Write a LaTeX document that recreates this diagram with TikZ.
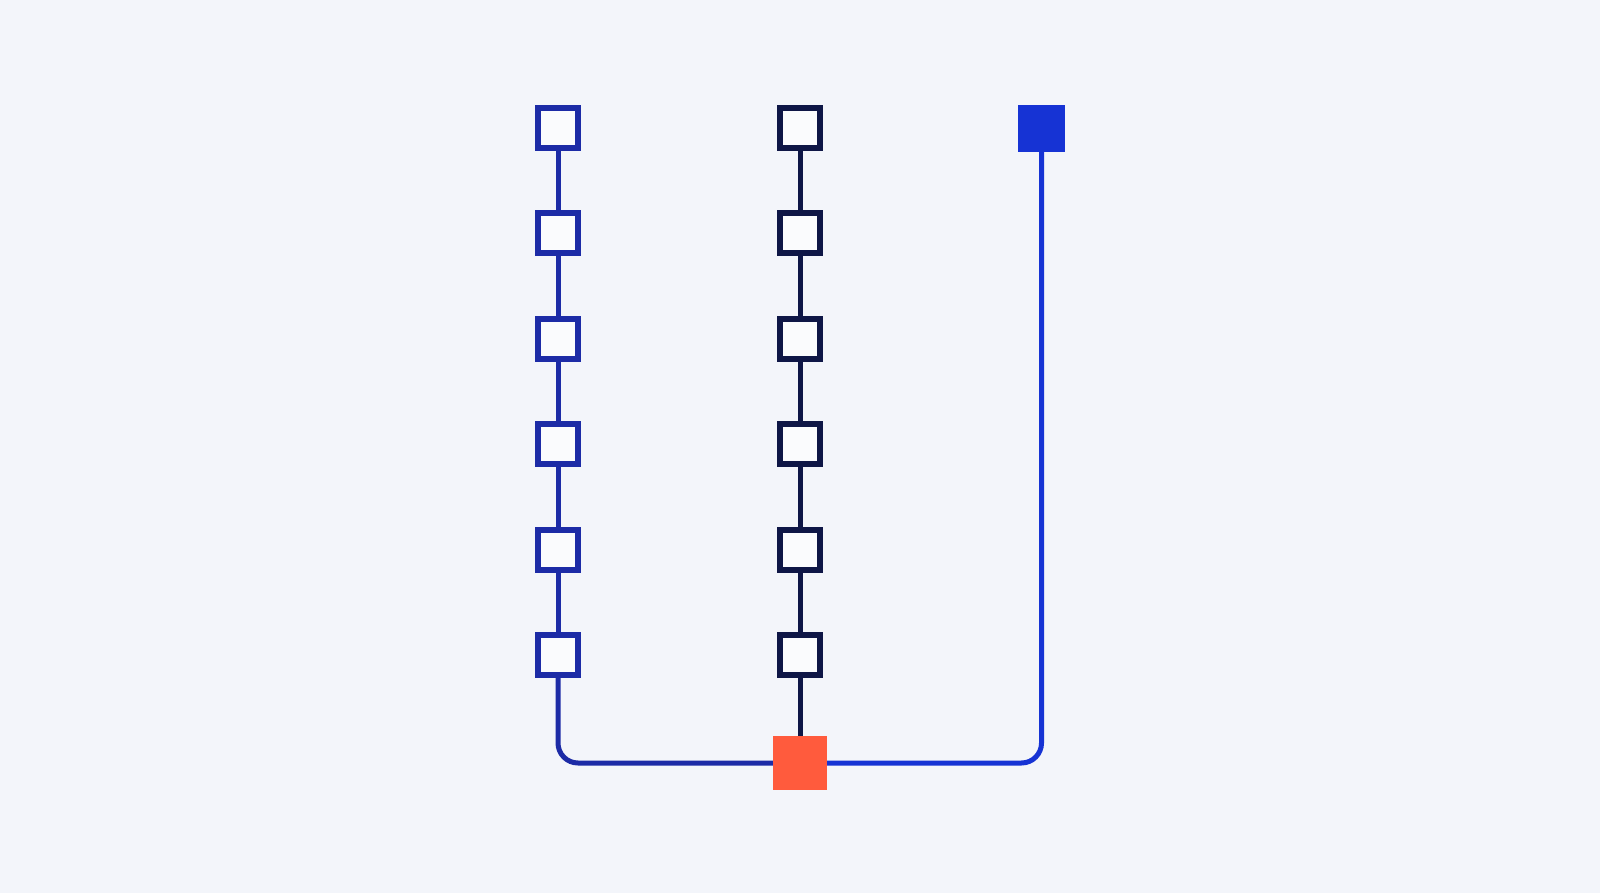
\documentclass[tikz,border=0pt]{standalone}
\definecolor{bg}{HTML}{F3F5FA}
\definecolor{colA}{HTML}{1C2BA6}
\definecolor{colB}{HTML}{0E1646}
\definecolor{colC}{HTML}{1633D4}
\definecolor{orng}{HTML}{FF5B3D}
\begin{document}
\begin{tikzpicture}[x=1pt,y=-1pt,
  sqA/.style={draw=colA,fill=white!60!bg,line width=6pt,minimum size=40pt,inner sep=0pt},
  sqB/.style={draw=colB,fill=white!60!bg,line width=6pt,minimum size=40pt,inner sep=0pt},
  lnA/.style={draw=colA,line width=5pt},
  lnB/.style={draw=colB,line width=5pt},
  lnC/.style={draw=colC,line width=5pt}]
\fill[bg] (0,0) rectangle (1600,893);
\foreach \i in {1,...,6} {
  \node[sqA] (a\i) at (558,{128+105.4*(\i-1)}) {};
  \node[sqB] (b\i) at (800,{128+105.4*(\i-1)}) {};
}
\node[fill=colC,minimum size=47pt,inner sep=0pt] (c) at (1041.5,128.5) {};
\node[fill=orng,minimum size=54pt,inner sep=0pt] (o) at (800,763) {};
\foreach \i/\j in {1/2,2/3,3/4,4/5,5/6} {
  \draw[lnA] (a\i.south) -- (a\j.north);
  \draw[lnB] (b\i.south) -- (b\j.north);
}
\draw[lnB] (b6.south) -- (o.north);
\draw[lnA,rounded corners=20pt] (a6.south) |- (o.west);
\draw[lnC,rounded corners=20pt] (o.east) -| (c.south);
\end{tikzpicture}
\end{document}
